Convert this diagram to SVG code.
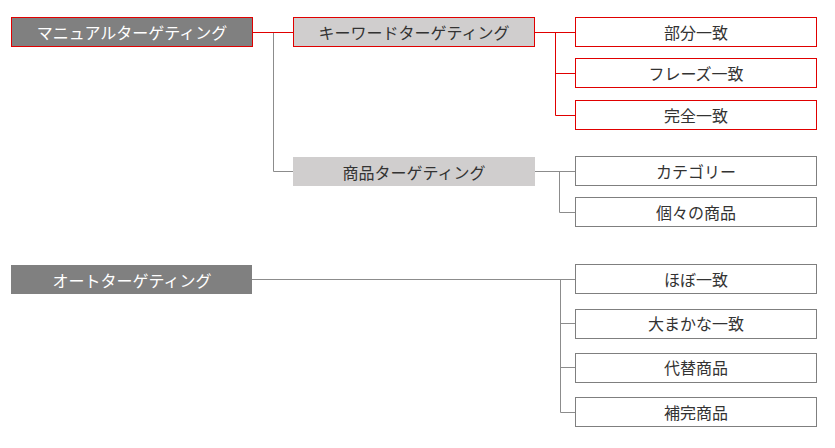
<svg xmlns="http://www.w3.org/2000/svg" width="835" height="448" viewBox="0 0 835 448">
<style>
text{font-family:"Noto Sans CJK JP",sans-serif;font-size:16px;text-anchor:middle;dominant-baseline:central;fill:#333}
.w{fill:#fff}
.leaf{fill:#fff;stroke:#7f7f7f;stroke-width:1}
.leafr{fill:#fff;stroke:#e00000;stroke-width:1}
.r{stroke:#e00000;fill:none;stroke-width:1}
.g{stroke:#8c8c8c;fill:none;stroke-width:1}
</style>
<rect width="835" height="448" fill="#fff"/>
<g id="connectors">
<path class="g" d="M273.5 32V171.5H293"/>
<path class="r" d="M252 32.5H293"/>
<path class="r" d="M535 32.5H575M555.5 32.5V115.5H575M555.5 73.5H575"/>
<path class="g" d="M535 171.5H575M559.5 171.5V212.5H575"/>
<path class="g" d="M252 279.5H575M560.5 279.5V412.5H575M560.5 323.5H575M560.5 367.5H575"/>
</g>
<g id="manual"><rect x="11.5" y="17.5" width="241" height="29" fill="#808080" stroke="#e00000"/><text class="w" x="132" y="32">マニュアルターゲティング</text></g>
<g id="keyword"><rect x="293.5" y="17.5" width="241" height="29" fill="#d0cece" stroke="#e00000"/><text x="414" y="32">キーワードターゲティング</text></g>
<g id="product"><rect x="293" y="157" width="242" height="29" fill="#d0cece"/><text x="414" y="171.5">商品ターゲティング</text></g>
<g id="auto"><rect x="11" y="265" width="241" height="29" fill="#808080"/><text class="w" x="132" y="279.5">オートターゲティング</text></g>
<g id="n1"><rect class="leafr" x="575.5" y="17.5" width="241" height="29"/><text x="696" y="32">部分一致</text></g>
<g id="n2"><rect class="leafr" x="575.5" y="58.5" width="241" height="29"/><text x="696" y="73">フレーズ一致</text></g>
<g id="n3"><rect class="leafr" x="575.5" y="100.5" width="241" height="29"/><text x="696" y="115">完全一致</text></g>
<g id="n4"><rect class="leaf" x="575.5" y="156.5" width="241" height="29"/><text x="696" y="171">カテゴリー</text></g>
<g id="n5"><rect class="leaf" x="575.5" y="197.5" width="241" height="29"/><text x="696" y="212">個々の商品</text></g>
<g id="n6"><rect class="leaf" x="575.5" y="264.5" width="241" height="29"/><text x="696" y="279">ほぼ一致</text></g>
<g id="n7"><rect class="leaf" x="575.5" y="309.5" width="241" height="29"/><text x="696" y="323">大まかな一致</text></g>
<g id="n8"><rect class="leaf" x="575.5" y="353.5" width="241" height="29"/><text x="696" y="367">代替商品</text></g>
<g id="n9"><rect class="leaf" x="575.5" y="397.5" width="241" height="29"/><text x="696" y="412">補完商品</text></g>
</svg>
